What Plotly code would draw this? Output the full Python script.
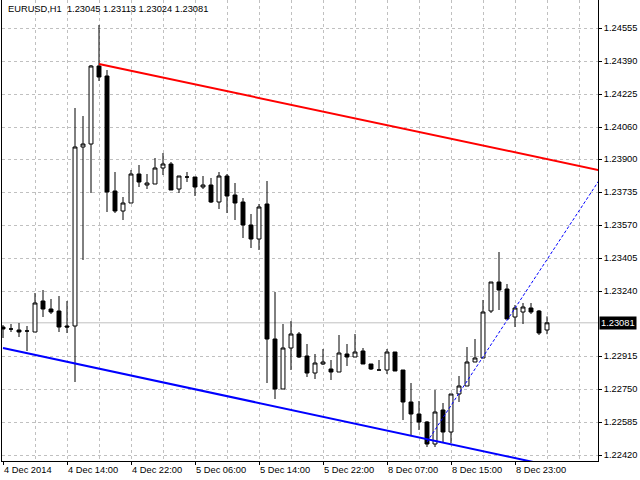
import plotly.graph_objects as go

## EURUSD H1 bars, 4 Dec 2014 06:00 .. 8 Dec 2014 23:00 (bar number on x)
bar_no = list(range(69))

opens = [1.23060, 1.23050, 1.23045, 1.23040, 1.23035, 1.23190, 1.23150, 1.23140, 1.23065, 1.23065,
         1.23960, 1.23975, 1.24365, 1.24315, 1.23740, 1.23640, 1.23680, 1.23825, 1.23770, 1.23775,
         1.23855, 1.23875, 1.23750, 1.23810, 1.23810, 1.23760, 1.23770, 1.23685, 1.23815, 1.23720,
         1.23685, 1.23570, 1.23500, 1.23675, 1.23000, 1.22750, 1.22955, 1.23025, 1.22915, 1.22830,
         1.22875, 1.22850, 1.22835, 1.22925, 1.22910, 1.22940, 1.22875, 1.22845, 1.22845, 1.22935,
         1.22845, 1.22685, 1.22625, 1.22585, 1.22475, 1.22645, 1.22535, 1.22725, 1.22765, 1.22885,
         1.22905, 1.23140, 1.23285, 1.23250, 1.23110, 1.23135, 1.23155, 1.23140, 1.23045]
highs = [1.23070, 1.23075, 1.23080, 1.23065, 1.23230, 1.23245, 1.23200, 1.23215, 1.23190, 1.24155,
         1.24115, 1.24370, 1.24570, 1.24345, 1.23835, 1.23710, 1.23845, 1.23870, 1.23825, 1.23905,
         1.23930, 1.23885, 1.23815, 1.23835, 1.23810, 1.23815, 1.23805, 1.23835, 1.23825, 1.23780,
         1.23705, 1.23625, 1.23675, 1.23790, 1.23235, 1.23075, 1.23090, 1.23035, 1.22975, 1.22925,
         1.22950, 1.22895, 1.23020, 1.22975, 1.23025, 1.22955, 1.22875, 1.22895, 1.22950, 1.22935,
         1.22845, 1.22780, 1.22690, 1.22590, 1.22745, 1.22680, 1.22725, 1.22815, 1.22960, 1.23000,
         1.23195, 1.23285, 1.23435, 1.23275, 1.23170, 1.23180, 1.23180, 1.23145, 1.23113]
lows = [1.23005, 1.23035, 1.23010, 1.22940, 1.23035, 1.23110, 1.23125, 1.23035, 1.23030, 1.22785,
        1.23395, 1.23730, 1.24290, 1.23635, 1.23630, 1.23595, 1.23680, 1.23760, 1.23750, 1.23775,
        1.23820, 1.23745, 1.23730, 1.23785, 1.23715, 1.23750, 1.23680, 1.23650, 1.23630, 1.23595,
        1.23505, 1.23455, 1.23445, 1.22780, 1.22700, 1.22750, 1.22845, 1.22905, 1.22810, 1.22800,
        1.22870, 1.22795, 1.22835, 1.22865, 1.22910, 1.22875, 1.22845, 1.22845, 1.22825, 1.22840,
        1.22595, 1.22520, 1.22545, 1.22460, 1.22460, 1.22485, 1.22480, 1.22685, 1.22765, 1.22885,
        1.22905, 1.23130, 1.23145, 1.23100, 1.23060, 1.23075, 1.23125, 1.23020, 1.23024]
closes = [1.23050, 1.23050, 1.23035, 1.23040, 1.23180, 1.23150, 1.23135, 1.23060, 1.23060, 1.23960,
          1.23975, 1.24365, 1.24310, 1.23735, 1.23640, 1.23680, 1.23825, 1.23785, 1.23780, 1.23855,
          1.23875, 1.23745, 1.23815, 1.23810, 1.23760, 1.23770, 1.23685, 1.23815, 1.23715, 1.23680,
          1.23570, 1.23500, 1.23660, 1.23000, 1.22750, 1.22955, 1.23025, 1.22910, 1.22830, 1.22880,
          1.22885, 1.22835, 1.22930, 1.22910, 1.22935, 1.22875, 1.22850, 1.22845, 1.22935, 1.22840,
          1.22685, 1.22625, 1.22585, 1.22475, 1.22635, 1.22535, 1.22725, 1.22765, 1.22885, 1.22905,
          1.23135, 1.23285, 1.23245, 1.23100, 1.23155, 1.23160, 1.23135, 1.23030, 1.23081]

time_ticks = [0, 8, 16, 24, 32, 40, 48, 56, 64]
time_labels = ['4 Dec 2014', '4 Dec 14:00', '4 Dec 22:00', '5 Dec 06:00', '5 Dec 14:00',
               '5 Dec 22:00', '8 Dec 07:00', '8 Dec 15:00', '8 Dec 23:00']
minor_ticks = [4, 12, 20, 28, 36, 44, 52, 60, 68, 72]
price_ticks = [1.24555, 1.24390, 1.24225, 1.24060, 1.23900, 1.23735, 1.23570,
               1.23405, 1.23240, 1.22915, 1.22750, 1.22585, 1.22420]

## trend lines drawn on the chart (bar number, price)
red_line_x = [12, 75]
red_line_y = [1.24375, 1.23840]
blue_line_x = [0, 75]
blue_line_y = [1.22955, 1.22310]
dot_line_x = [53, 75]
dot_line_y = [1.22485, 1.23823]

FONT = 'Liberation Sans, Arial, sans-serif'
GRID = '#c0c0c0'

fig = go.Figure()

fig.add_trace(go.Scatter(x=red_line_x, y=red_line_y, mode='lines',
                         line=dict(color='#ff0000', width=2), hoverinfo='skip'))
fig.add_trace(go.Scatter(x=blue_line_x, y=blue_line_y, mode='lines',
                         line=dict(color='#0000ff', width=2), hoverinfo='skip'))
fig.add_trace(go.Scatter(x=dot_line_x, y=dot_line_y, mode='lines',
                         line=dict(color='#0000ff', width=1, dash='3px,2px'), hoverinfo='skip'))

fig.add_trace(go.Candlestick(x=bar_no, open=opens, high=highs, low=lows, close=closes,
                             increasing=dict(line=dict(color='black', width=1), fillcolor='white'),
                             decreasing=dict(line=dict(color='black', width=1), fillcolor='black'),
                             whiskerwidth=0))

last = closes[-1]
# current price line
fig.add_shape(type='line', xref='paper', x0=0, x1=1, yref='y', y0=last, y1=last,
              line=dict(color=GRID, width=1), layer='below')

## symbol, period and O H L C of the last bar
title = 'EURUSD,H1\u00a0\u00a0{:.5f} {:.5f} {:.5f} {:.5f}'.format(opens[-1], highs[-1], lows[-1], closes[-1])
fig.add_annotation(text=title, xref='paper', yref='paper', x=0, y=1, xanchor='left', yanchor='top',
                   xshift=4, yshift=-2, showarrow=False, font=dict(family=FONT, size=9.3, color='black'))
fig.add_annotation(text='{:.5f}'.format(last), xref='paper', yref='y', x=1, y=last,
                   xanchor='left', yanchor='middle', showarrow=False, bgcolor='black',
                   borderpad=1, xshift=1, font=dict(family=FONT, size=9.3, color='white'))

fig.update_layout(
    width=640, height=480,
    margin=dict(l=2, r=42, t=0, b=19),
    paper_bgcolor='white', plot_bgcolor='white',
    showlegend=False,
    font=dict(family=FONT, size=9.3, color='black'),
    xaxis=dict(range=[-0.125, 74.375], rangeslider=dict(visible=False),
               tickmode='array', tickvals=time_ticks, ticktext=time_labels,
               ticklabelposition='outside right',
               ticks='outside', ticklen=3, tickcolor='black',
               showgrid=True, gridcolor=GRID, griddash='3px,3px', gridwidth=1,
               minor=dict(tickmode='array', tickvals=minor_ticks, showgrid=True,
                          gridcolor=GRID, griddash='3px,3px', ticks=''),
               showline=True, linecolor='black', linewidth=1, zeroline=False,
               fixedrange=True),
    yaxis=dict(range=[1.22390, 1.24695], side='right',
               tickmode='array', tickvals=price_ticks, tickformat='.5f',
               ticks='outside', ticklen=3, tickcolor='black',
               showgrid=True, gridcolor=GRID, griddash='3px,3px', gridwidth=1,
               showline=True, mirror=True, linecolor='black', linewidth=1, zeroline=False,
               fixedrange=True),
)

fig.write_html('out.html', config={'displayModeBar': False},
               post_script="document.body.style.margin='0px';")
